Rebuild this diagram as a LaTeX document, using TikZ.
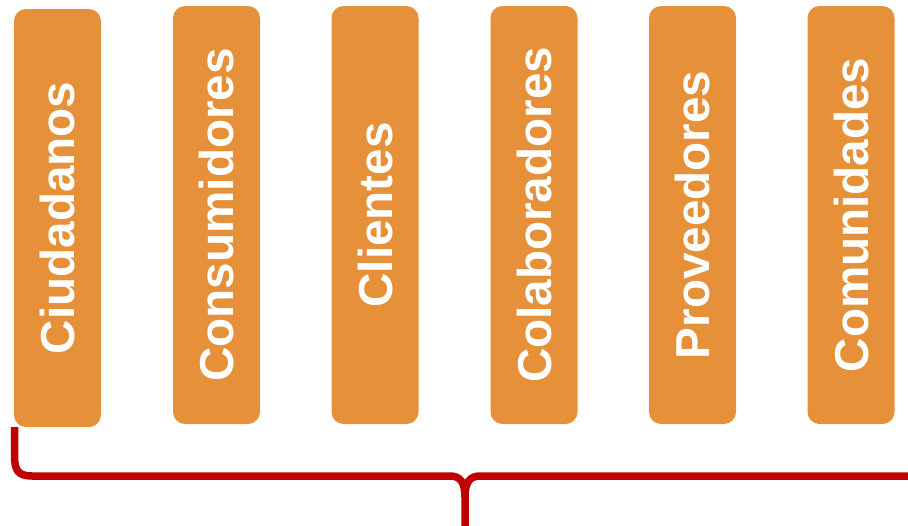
\documentclass[tikz,border=0pt]{standalone}
\usepackage{fontspec}
\setmainfont{Liberation Sans}
\definecolor{boxorange}{HTML}{E6913A}
\definecolor{bracered}{HTML}{C00000}
\tikzset{
  stakebox/.style={fill=boxorange, draw=none, rounded corners=12pt, rotate=90,
    minimum width=418pt, minimum height=87pt, inner sep=0pt, text=white,
    font=\bfseries\fontsize{47.6}{47.6}\selectfont},
  bracestroke/.style={draw=bracered, line width=7.5pt}
}
\begin{document}
\begin{tikzpicture}[x=1pt,y=-1pt]
\useasboundingbox (0,0) rectangle (908,525);
\node[stakebox] (b1) at (57.5,218) {Ciudadanos};
\node[stakebox] (b2) at (216.5,215) {Consumidores};
\node[stakebox] (b3) at (375,215) {Clientes};
\node[stakebox] (b4) at (534,215) {Colaboradores};
\node[stakebox] (b5) at (692.5,215) {Proveedores};
\node[stakebox] (b6) at (851,215) {Comunidades};
\coordinate (bl) at (14.5,427);
\coordinate (tip) at (465,528);
\coordinate (br) at (912,476);
\draw[bracestroke] (bl) -- (14.5,456) .. controls (14.5,470) and (18,476) .. (32,476)
  -- (450,476) .. controls (460,476) and (465,482) .. (465,497) -- (tip);
\draw[bracestroke] (br) -- (480,476) .. controls (470,476) and (465,482) .. (465,497);
\end{tikzpicture}
\end{document}
